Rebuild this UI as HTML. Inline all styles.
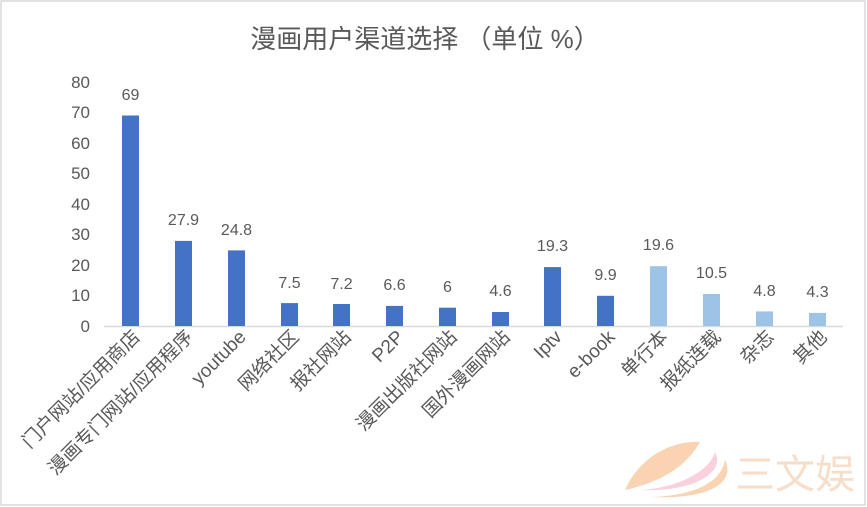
<!DOCTYPE html>
<html><head><meta charset="utf-8"><style>
html,body{margin:0;padding:0;background:#fff}
svg{display:block}
text{font-family:"Liberation Sans","Noto Sans CJK SC",sans-serif;fill:#595959}
</style></head><body>
<svg width="867" height="507" viewBox="0 0 867 507" xmlns="http://www.w3.org/2000/svg">
<rect x="1" y="1" width="864" height="504" fill="#fff" stroke="#d9d9d9" stroke-width="1.5"/>
<text x="425" y="48" text-anchor="middle" font-size="26">漫画用户渠道选择 （单位 %）</text>
<g font-size="17" text-anchor="end">
<text x="90" y="332">0</text><text x="90" y="301">10</text><text x="90" y="271">20</text><text x="90" y="240">30</text><text x="90" y="210">40</text><text x="90" y="179">50</text><text x="90" y="149">60</text><text x="90" y="118">70</text><text x="90" y="88">80</text>
</g>
<line x1="104" y1="326.5" x2="843" y2="326.5" stroke="#d9d9d9" stroke-width="1.5"/>
<g font-size="16" text-anchor="middle">
<rect x="122" y="115.5" width="17" height="210.5" fill="#4472C4"/><text x="130.5" y="100">69</text>
<rect x="175" y="240.9" width="17" height="85.1" fill="#4472C4"/><text x="183.5" y="225">27.9</text>
<rect x="228" y="250.4" width="17" height="75.6" fill="#4472C4"/><text x="236.5" y="235">24.8</text>
<rect x="281" y="303.1" width="17" height="22.9" fill="#4472C4"/><text x="289.5" y="288">7.5</text>
<rect x="333" y="304" width="17" height="22" fill="#4472C4"/><text x="341.5" y="289">7.2</text>
<rect x="386" y="305.9" width="17" height="20.1" fill="#4472C4"/><text x="394.5" y="290">6.6</text>
<rect x="439" y="307.7" width="17" height="18.3" fill="#4472C4"/><text x="447.5" y="292">6</text>
<rect x="492" y="312" width="17" height="14" fill="#4472C4"/><text x="500.5" y="296">4.6</text>
<rect x="544" y="267.1" width="17" height="58.9" fill="#4472C4"/><text x="552.5" y="251">19.3</text>
<rect x="597" y="295.8" width="17" height="30.2" fill="#4472C4"/><text x="605.5" y="280">9.9</text>
<rect x="650" y="266.2" width="17" height="59.8" fill="#9DC3E6"/><text x="658.5" y="250">19.6</text>
<rect x="703" y="294" width="17" height="32" fill="#9DC3E6"/><text x="711.5" y="278">10.5</text>
<rect x="756" y="311.4" width="17" height="14.6" fill="#9DC3E6"/><text x="764.5" y="296">4.8</text>
<rect x="809" y="312.9" width="17" height="13.1" fill="#9DC3E6"/><text x="817.5" y="297">4.3</text>
</g>
<g font-size="19" text-anchor="end">
<text transform="translate(141,338) rotate(-45)">门户网站/应用商店</text>
<text transform="translate(194,338) rotate(-45)">漫画专门网站/应用程序</text>
<text transform="translate(247,338) rotate(-45)">youtube</text>
<text transform="translate(300,338) rotate(-45)">网络社区</text>
<text transform="translate(352,338) rotate(-45)">报社网站</text>
<text transform="translate(405,338) rotate(-45)">P2P</text>
<text transform="translate(458,338) rotate(-45)">漫画出版社网站</text>
<text transform="translate(511,338) rotate(-45)">国外漫画网站</text>
<text transform="translate(563,338) rotate(-45)">Iptv</text>
<text transform="translate(616,338) rotate(-45)">e-book</text>
<text transform="translate(669,338) rotate(-45)">单行本</text>
<text transform="translate(722,338) rotate(-45)">报纸连载</text>
<text transform="translate(775,338) rotate(-45)">杂志</text>
<text transform="translate(828,338) rotate(-45)">其他</text>
</g>
<g opacity="0.8">
<path d="M625,490 C640,455 675,440 700,442 C690,460 670,480 625,490 Z" fill="#f8c9a0"/>
<path d="M640,490 C680,488 710,470 715,452 C725,470 700,492 640,490 Z" fill="#f7c6d4"/>
<path d="M650,497 C690,496 720,485 725,460 C735,480 715,500 650,497 Z" fill="#f8c9a0"/>
<text x="735" y="488" font-size="40" style="fill:#f5d6bd">三文娱</text>
</g>
</svg>
</body></html>
